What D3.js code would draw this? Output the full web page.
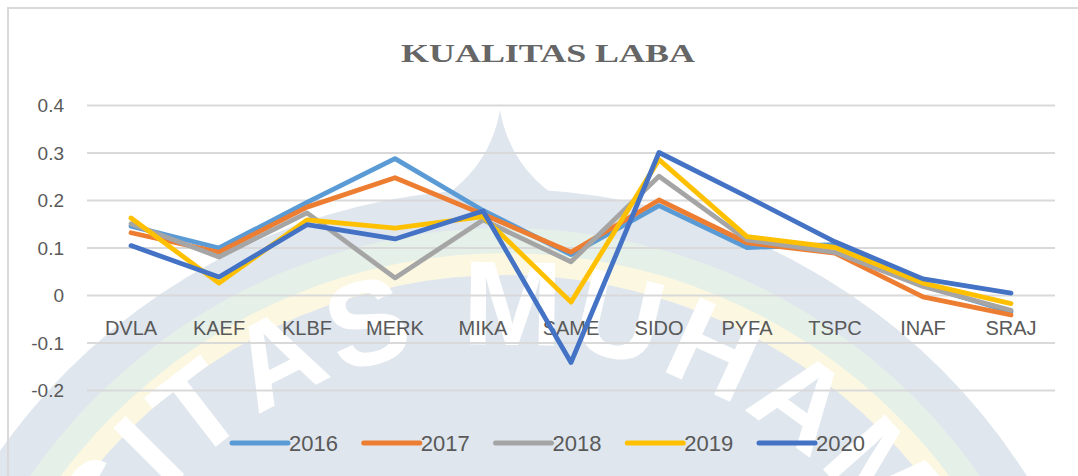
<!DOCTYPE html>
<html>
<head>
<meta charset="utf-8">
<script src="https://cdn.jsdelivr.net/npm/d3@7"></script>
<style>
  html, body { margin: 0; padding: 0; background: #ffffff; }
  svg { display: block; }
</style>
</head>
<body>
<svg id="chart" width="1078" height="476"></svg>
<script>
// ---- data ----
const title = "KUALITAS LABA";
const categories = ["DVLA","KAEF","KLBF","MERK","MIKA","SAME","SIDO","PYFA","TSPC","INAF","SRAJ"];
const seriesNames = ["2016","2017","2018","2019","2020"];
const v2016 = [0.145, 0.099, 0.195, 0.287, 0.178, 0.085, 0.188, 0.100, 0.106, 0.020, -0.035];
const v2017 = [0.131, 0.090, 0.185, 0.247, 0.170, 0.090, 0.200, 0.110, 0.088, -0.004, -0.042];
const v2018 = [0.150, 0.080, 0.173, 0.036, 0.158, 0.070, 0.250, 0.116, 0.090, 0.018, -0.032];
const v2019 = [0.162, 0.025, 0.158, 0.141, 0.165, -0.015, 0.285, 0.123, 0.100, 0.025, -0.018];
const v2020 = [0.104, 0.038, 0.148, 0.118, 0.177, -0.142, 0.300, 0.207, 0.112, 0.034, 0.004];
const yTicks = [-0.2, -0.1, 0, 0.1, 0.2, 0.3, 0.4];
const colors = ["#5B9BD5", "#ED7D31", "#A5A5A5", "#FFC000", "#4472C4"];
const watermarkText = "UNIVERSITAS MUHAMMADIYAH";

const seriesValues = [v2016, v2017, v2018, v2019, v2020];

// ---- layout ----
const svg = d3.select("#chart");
const plot = { left: 87, right: 1055, top: 105, bottom: 390 };

// ---- watermark (background of the scanned page) ----
const wm = svg.append("g").attr("class", "watermark");
const wcx = 505, wcy = 807;
const bands = [
  { r: 618, fill: "#dfe6ee" },
  { r: 579, fill: "#e5f0e8" },
  { r: 554, fill: "#fcf7e1" },
  { r: 532, fill: "#dfe6ee" }
];
bands.forEach(b => {
  wm.append("circle").attr("cx", wcx).attr("cy", wcy).attr("r", b.r).attr("fill", b.fill);
});
wm.append("path")
  .attr("d", "M 420 210 Q 488 178 500 110 Q 512 178 580 210 Z")
  .attr("fill", "#dfe6ee");

// white lettering set around an arc, one letter per text element
const wmR = 462, theta0 = -0.8, letterSpacing = 6, startS = 140;
const wmFont = { family: "Liberation Sans, Arial, sans-serif", size: 120 };
const measure = wm.append("text")
  .attr("font-family", wmFont.family).attr("font-weight", "bold")
  .attr("font-size", wmFont.size).attr("visibility", "hidden");
let s = startS;
watermarkText.split("").forEach(ch => {
  measure.text(ch === " " ? "\u00a0" : ch);
  const w = measure.node().getComputedTextLength();
  const mid = s + w / 2;
  s += w + letterSpacing;
  if (ch === " ") return;
  const phi = theta0 + mid / wmR;
  const px = wcx - wmR * Math.cos(phi);
  const py = wcy - wmR * Math.sin(phi);
  if (px < -60 || px > 1140 || py > 530) return;
  const rot = (phi - Math.PI / 2) * 180 / Math.PI;
  wm.append("text")
    .attr("transform", `translate(${px},${py}) rotate(${rot})`)
    .attr("text-anchor", "middle")
    .attr("font-family", wmFont.family).attr("font-weight", "bold")
    .attr("font-size", wmFont.size)
    .attr("fill", "#ffffff")
    .text(ch);
});
measure.remove();

// ---- frame ----
svg.append("rect").attr("x", 8).attr("y", 8).attr("width", 1090).attr("height", 490)
  .attr("fill", "none").attr("stroke", "#d9d9d9").attr("stroke-width", 2);

// ---- scales ----
const x = d3.scaleBand().domain(categories).range([plot.left, plot.right]).padding(0);
const xc = c => x(c) + x.bandwidth() / 2;
const y = d3.scaleLinear().domain([-0.2, 0.4]).range([plot.bottom, plot.top]);

// ---- gridlines + y labels ----
const yAxis = d3.axisLeft(y).tickValues(yTicks)
  .tickSize(-(plot.right - plot.left))
  .tickFormat(d => d === 0 ? "0" : d3.format(".1f")(d).replace("\u2212", "-"));
const gy = svg.append("g").attr("transform", `translate(${plot.left},0)`).call(yAxis);
gy.select(".domain").remove();
gy.selectAll(".tick line").attr("stroke", "#d9d9d9").attr("stroke-width", 2);
gy.selectAll(".tick text")
  .attr("x", -23)
  .attr("dy", "0.36em")
  .attr("fill", "#595959")
  .attr("font-family", "Liberation Sans, Arial, sans-serif")
  .attr("font-size", 19);

// ---- category labels (next to zero axis) ----
const xAxis = d3.axisBottom(x).tickSize(0).tickPadding(0);
const gx = svg.append("g").attr("transform", `translate(0,${y(0)})`).call(xAxis);
gx.select(".domain").remove();
gx.selectAll(".tick text")
  .attr("y", 40)
  .attr("dy", 0)
  .attr("fill", "#595959")
  .attr("font-family", "Liberation Sans, Arial, sans-serif")
  .attr("font-size", 20);

// ---- lines ----
const line = d3.line()
  .x((d, i) => xc(categories[i]))
  .y(d => y(d));
seriesValues.forEach((vals, k) => {
  svg.append("path")
    .datum(vals)
    .attr("d", line)
    .attr("fill", "none")
    .attr("stroke", colors[k])
    .attr("stroke-width", 4.8)
    .attr("stroke-linejoin", "round")
    .attr("stroke-linecap", "round");
});

// ---- title ----
svg.append("text")
  .attr("x", 548).attr("y", 62)
  .attr("text-anchor", "middle")
  .attr("font-family", "Liberation Serif, Times New Roman, serif")
  .attr("font-weight", "bold")
  .attr("font-size", 25)
  .attr("textLength", 294)
  .attr("lengthAdjust", "spacingAndGlyphs")
  .attr("fill", "#666666")
  .text(title);

// ---- legend ----
const legend = svg.append("g");
const lx = d3.scalePoint().domain(seriesNames).range([232, 759]);
seriesNames.forEach((name, k) => {
  const g = legend.append("g").attr("transform", `translate(${lx(name)},443)`);
  g.append("line").attr("x1", 0).attr("x2", 56).attr("y1", 0).attr("y2", 0)
    .attr("stroke", colors[k]).attr("stroke-width", 5).attr("stroke-linecap", "round");
  g.append("text").attr("x", 57).attr("y", 8)
    .attr("fill", "#595959")
    .attr("font-family", "Liberation Sans, Arial, sans-serif")
    .attr("font-size", 22)
    .text(name);
});
</script>
</body>
</html>
